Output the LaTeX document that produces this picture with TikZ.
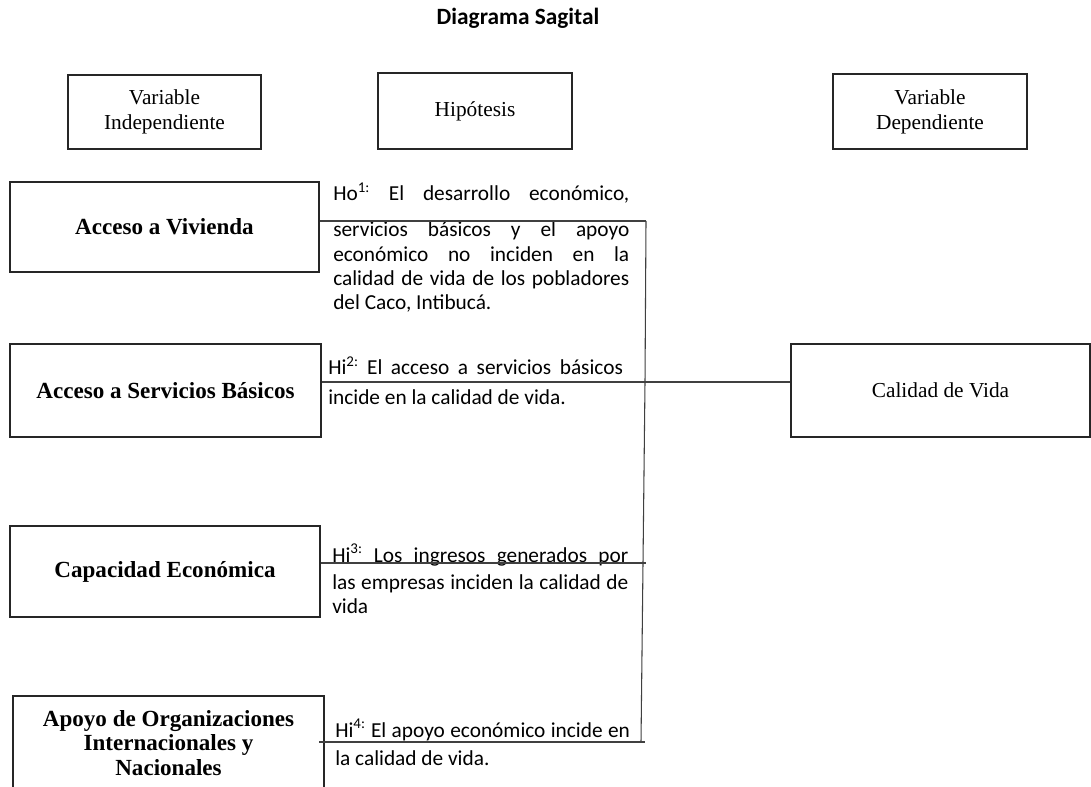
\documentclass[tikz,border=0pt]{standalone}
\usepackage{fontspec}
\setmainfont{Liberation Serif}
\newfontfamily\calfont{Carlito}
\begin{document}
\begin{tikzpicture}[x=0.75pt,y=-0.75pt,
  bx/.style={draw=black!85, line width=1.8pt, inner sep=2pt, align=center},
  lbl/.style={font=\fontsize{16}{18.75}\selectfont},
  vb/.style={font=\fontsize{17.3}{18.4}\selectfont\bfseries},
  conn/.style={draw=black!75, line width=0.8pt},
  hy/.style={font=\calfont\fontsize{16}{19}\selectfont, inner sep=0pt, anchor=base west},
]
\useasboundingbox (0,0) rectangle (1091,787);
\fill[white] (0,0) rectangle (1091,787);

\node[font=\calfont\bfseries\fontsize{17.5}{20}\selectfont, anchor=base] (title) at (518,25) {Diagrama Sagital};

% header boxes
\node[bx, lbl, minimum width=144.75pt, minimum height=55.5pt] (vi) at (164.5,112) {Variable\\Independiente};
\node[bx, lbl, minimum width=145.5pt, minimum height=57pt] (hip) at (475,111) {Hipótesis};
\node[bx, lbl, minimum width=145.5pt, minimum height=56.25pt] (vd) at (930,111.5) {Variable\\Dependiente};

% independent variables
\node[bx, vb, minimum width=231.75pt, minimum height=67.5pt] (av) at (164.5,227) {Acceso a Vivienda};
\node[bx, vb, minimum width=233.25pt, minimum height=69.75pt] (asb) at (165.5,390.5) {Acceso a Servicios Básicos};
\node[bx, vb, minimum width=232.5pt, minimum height=68.25pt] (ce) at (165,571.5) {Capacidad Económica};
\node[bx, vb, minimum width=233.25pt, minimum height=70.5pt] (ao) at (168.5,743) {Apoyo de Organizaciones\\Internacionales y\\Nacionales};

% dependent variable
\node[bx, lbl, minimum width=224.25pt, minimum height=69.75pt] (cv) at (940.5,390.5) {Calidad de Vida};

% hypotheses
\node[hy] (h1a) at (333,201) {\makebox[222pt][s]{Ho\textsuperscript{1:} El desarrollo económico,}};
\node[hy] (h1b) at (333,237) {\makebox[222pt][s]{servicios básicos y el apoyo}};
\node[hy] (h1c) at (333,262) {\makebox[222pt][s]{económico no inciden en la}};
\node[hy] (h1d) at (333,286) {\makebox[222pt][s]{calidad de vida de los pobladores}};
\node[hy] (h1e) at (333,310) {del Caco, Intibucá.};

\node[hy] (h2a) at (328,375) {\makebox[221pt][s]{Hi\textsuperscript{2:} El acceso a servicios básicos}};
\node[hy] (h2b) at (328,405) {incide en la calidad de vida.};

\node[hy] (h3a) at (332,562) {\makebox[222pt][s]{Hi\textsuperscript{3:} Los ingresos generados por}};
\node[hy] (h3b) at (332,589) {\makebox[222pt][s]{las empresas inciden la calidad de}};
\node[hy] (h3c) at (332,613) {vida};

\node[hy] (h4a) at (335,737) {\makebox[221pt][s]{Hi\textsuperscript{4:} El apoyo económico incide en}};
\node[hy] (h4b) at (335,765) {la calidad de vida.};

% connectors
\coordinate (t1) at (646,221);
\coordinate (t2) at (645,382);
\coordinate (t3) at (643,563);
\coordinate (t4) at (641,742);
\draw[conn] (t1) -- (t2) -- (t3) -- (t4);
\draw[conn] (av.east |- t1) -- (t1);
\draw[conn] (asb.east |- t2) -- (cv.west |- t2);
\draw[conn] (ce.east |- t3) -- ([xshift=2.25pt]t3);
\draw[conn] ([xshift=-4.5pt]ao.east |- t4) -- ([xshift=3pt]t4);
\end{tikzpicture}
\end{document}
